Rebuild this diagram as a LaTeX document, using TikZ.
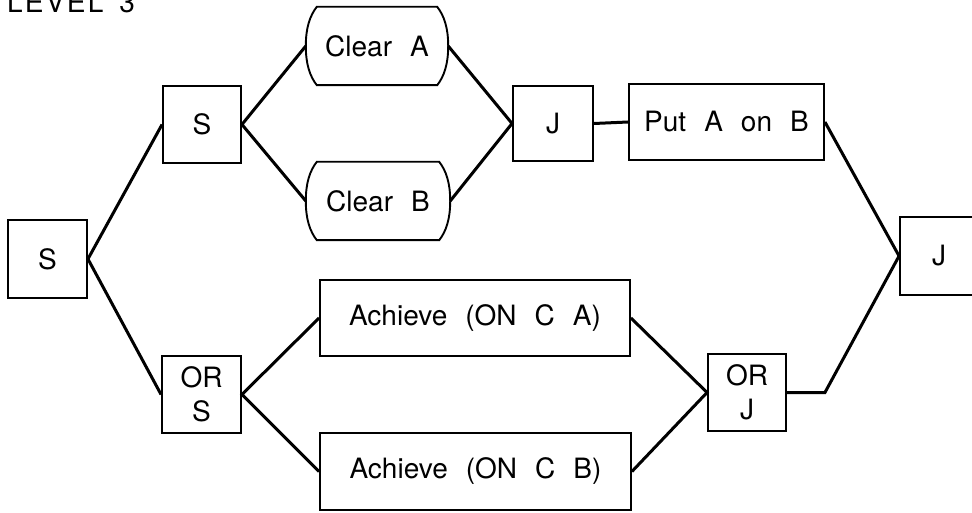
\documentclass[tikz,border=0pt]{standalone}
\usepackage{fontspec}
\setmainfont{TeX Gyre Heros}
\usetikzlibrary{calc}
\newcommand\wsp{\hspace{18pt}}
\newcommand\clearshape[1]{%
  \draw[boxline] ($(#1.north west)+(11,0)$) -- ($(#1.north east)+(-11,0)$)
    .. controls +(7,9) and +(0,-18) .. (#1.east)
    .. controls +(0,18) and +(7,-9) .. ($(#1.south east)+(-11,0)$)
    -- ($(#1.south west)+(11,0)$)
    .. controls +(-7,-9) and +(0,18) .. (#1.west)
    .. controls +(0,-18) and +(-7,9) .. ($(#1.north west)+(11,0)$) -- cycle;}
\begin{document}
\begin{tikzpicture}[x=1pt,y=-1pt,
  txt/.style={font=\fontsize{28}{34}\selectfont},
  boxline/.style={line width=1.9pt},
  box/.style={draw, boxline, txt, inner sep=0pt, align=center},
  clearbox/.style={txt, inner sep=0pt},
  link/.style={line width=3pt, line join=miter}]
\useasboundingbox (0,0) rectangle (972,513);

\node[txt, anchor=base west, inner sep=0pt] (title) at (7,12.5)
  {\addfontfeature{LetterSpace=8}LEVEL\hspace{16pt}3};

\node[box, minimum width=79pt, minimum height=78pt] (s0) at (47.5,259) {S};
\node[box, minimum width=78pt, minimum height=77pt] (s1) at (202,124.5) {S};
\node[box, minimum width=79pt, minimum height=77pt] (ors) at (201.5,394.5) {OR\\S};

\node[clearbox, minimum width=142pt, minimum height=78pt] (ca) at (377,46) {Clear\wsp A};
\node[clearbox, minimum width=144pt, minimum height=78pt] (cb) at (378,201) {Clear\wsp B};
\clearshape{ca}
\clearshape{cb}

\node[box, minimum width=80pt, minimum height=75pt] (j1) at (553,123.5) {J};
\node[box, minimum width=195pt, minimum height=76pt] (put) at (726.5,122) {Put\wsp A\wsp on\wsp B};
\node[box, minimum width=78pt, minimum height=78pt] (j2) at (939,256) {J};

\node[box, minimum width=310pt, minimum height=76pt] (aca) at (475,318) {Achieve\wsp (ON\wsp C\wsp A)};
\node[box, minimum width=311pt, minimum height=77pt] (acb) at (475.5,471.5) {Achieve\wsp (ON\wsp C\wsp B)};
\node[box, minimum width=78pt, minimum height=77pt] (orj) at (747,392.5) {OR\\J};

\coordinate (bend) at ($(orj.east)+(38,0)$);

\draw[link] (s1.west) -- (s0.east) -- (ors.west);
\draw[link] (ca.west) -- (s1.east) -- (cb.west);
\draw[link] (ca.east) -- (j1.west) -- (cb.east);
\draw[link] (j1.east) -- (put.west);
\draw[link] (put.east) -- (j2.west) -- (bend) -- (orj.east);
\draw[link] (aca.west) -- (ors.east) -- (acb.west);
\draw[link] (aca.east) -- (orj.west) -- (acb.east);
\end{tikzpicture}
\end{document}
